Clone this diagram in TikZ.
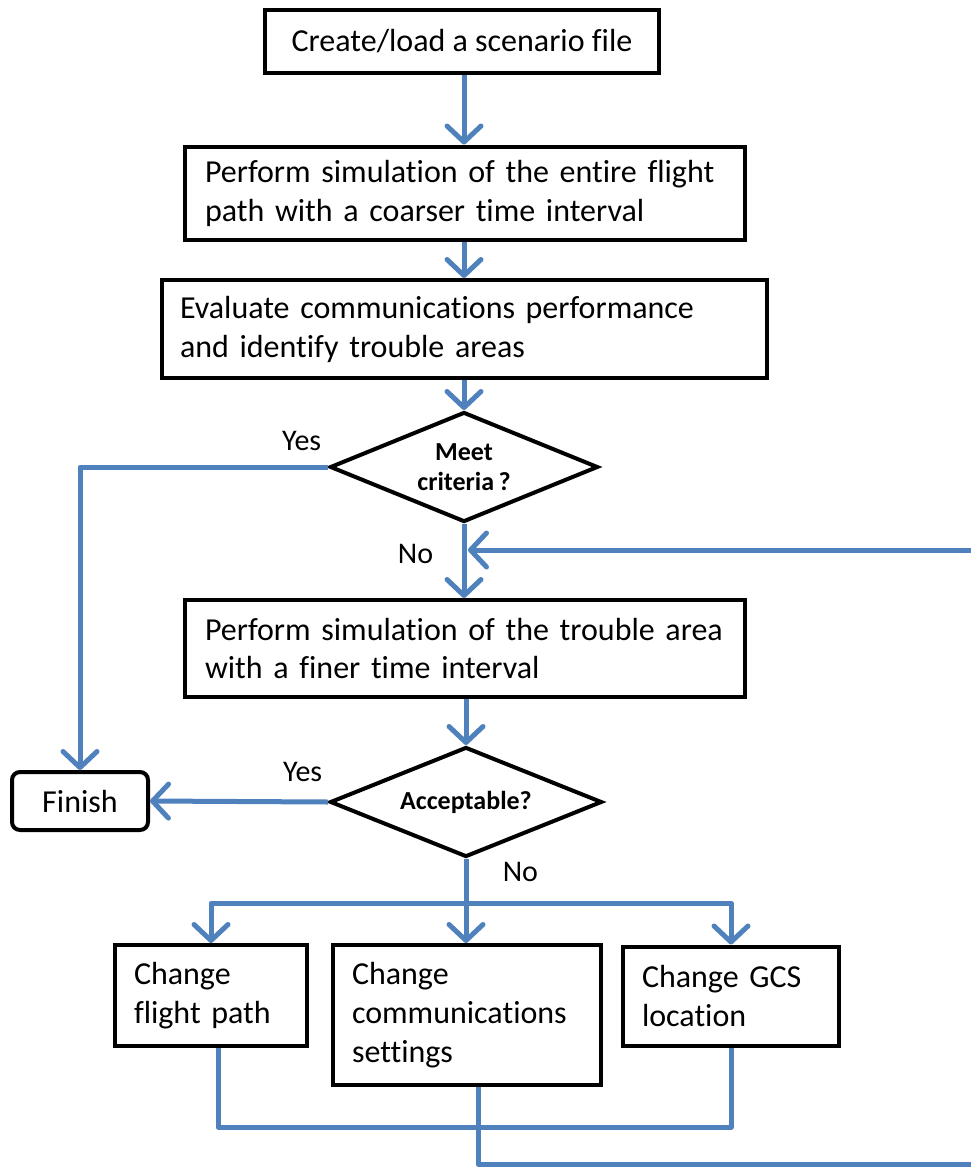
\documentclass[tikz,border=0pt]{standalone}
\usepackage{fontspec}
\setmainfont{Carlito}[Ligatures=NoCommon]
\usepackage{xcolor}
\usetikzlibrary{shapes,arrows,positioning,calc,arrows.meta}
\definecolor{flowblue}{RGB}{79,129,189}

\begin{document}
\begin{tikzpicture}[x=1pt, y=-1pt,
    box/.style={draw, rectangle, line width=4pt, inner sep=0pt, font=\fontsize{32}{39}\selectfont},
    decision/.style={draw, diamond, line width=4pt, inner sep=0pt, aspect=2.4, align=center, font=\fontsize{26}{30}\selectfont\bfseries},
    flow/.style={draw=flowblue, line width=5pt, line join=round},
    tip/.style={-{Straight Barb[length=16pt, width=34pt, line cap=round, line join=round]}},
    lbl/.style={font=\fontsize{30}{36}\selectfont}]
    \path [use as bounding box, clip] (0,0) rectangle (971,1167);

    \node [box, minimum width=394, minimum height=63] at (462,41) (create) {Create/load a scenario file};
    \node [box, minimum width=560, minimum height=93, text width=520, align=left] at (465,193) (simcoarse) {Perform simulation of the entire flight\\path with a coarser time interval};
    \node [box, minimum width=605, minimum height=98, text width=569, align=left] at (464.5,329) (evaluate) {Evaluate communications performance\\and identify trouble areas};
    \node [decision, minimum width=268, minimum height=110] at (464,467) (meet) {Meet\\criteria\,?};
    \node [box, minimum width=560, minimum height=97, text width=520, align=left] at (465,648.5) (simfine) {Perform simulation of the trouble area\\with a finer time interval};
    \node [decision, minimum width=272, minimum height=110] at (466,802) (accept) {Acceptable?};
    \node [box, rounded corners=8pt, minimum width=136, minimum height=58] at (80,801) (finish) {Finish};
    \node [box, minimum width=192, minimum height=101, text width=154, align=left] at (211,995.5) (chpath) {Change\\flight path};
    \node [box, minimum width=268, minimum height=140, text width=230, align=left] at (467,1015) (chcomm) {Change\\communications\\settings};
    \node [box, minimum width=216, minimum height=99, text width=178, align=left] at (731,996) (chgcs) {Change GCS\\location};

    \coordinate (rejoin) at (468,550);
    \coordinate (split) at (466,903);
    \coordinate (merge) at (478,1127);
    \coordinate (loopend) at (990,1164);

    \draw [flow, tip] (create.south -| meet.north) -- (simcoarse.north -| meet.north);
    \draw [flow, tip] (simcoarse.south -| meet.north) -- (evaluate.north -| meet.north);
    \draw [flow, tip] (evaluate.south -| meet.north) -- (meet.north);
    \draw [flow, tip] (meet.west) -| (finish.north) node [lbl, pos=0, above left=10pt and 1pt] {Yes};
    \draw [flow, tip] (meet.south) -- (simfine.north -| meet.south) node [lbl, pos=0.4, left=25pt] {No};
    \draw [flow, tip] (simfine.south -| accept.north) -- (accept.north);
    \draw [flow, tip] (accept.west) -- (finish.east) node [lbl, pos=0, above left=14pt and 0pt] {Yes};
    \draw [flow] (accept.south) -- (split) node [lbl, pos=0.3, right=31pt] {No};
    \draw [flow, tip] (split) -| (chpath.north);
    \draw [flow, tip] (split) -- (split |- chcomm.north);
    \draw [flow, tip] (split) -| (chgcs.north);
    \draw [flow] ([xshift=7pt]chpath.south) |- (merge) -| (chgcs.south);
    \draw [flow] (chcomm.south -| merge) -- (merge);
    \draw [flow, tip] (merge) |- (loopend) |- (rejoin);
\end{tikzpicture}
\end{document}
